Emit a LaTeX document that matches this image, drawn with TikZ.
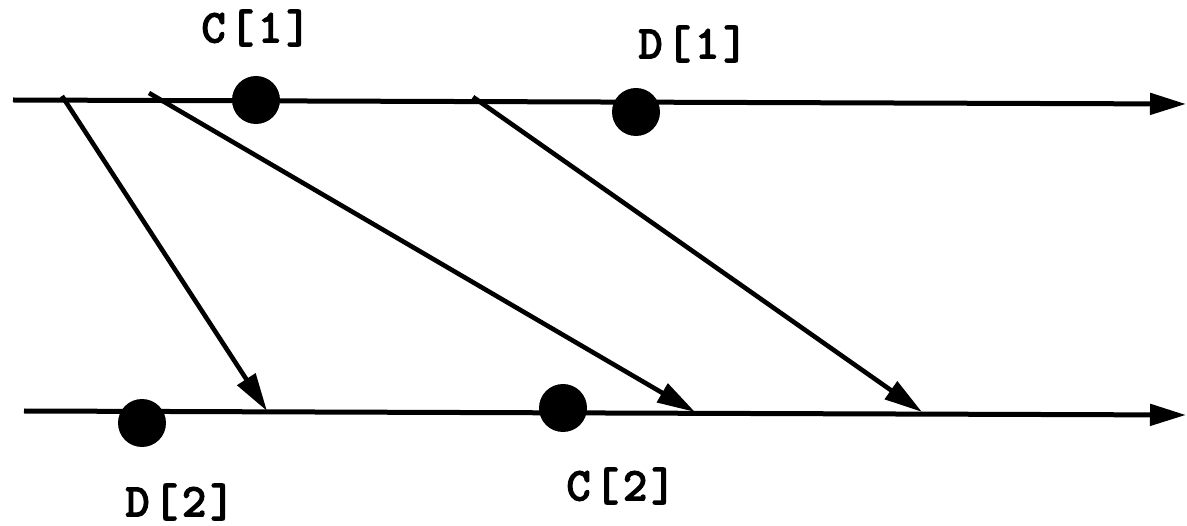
\documentclass[tikz,border=0pt]{standalone}
\usepackage{fontspec}
\newfontfamily\evfont{Latin Modern Mono}[FakeBold=4,LetterSpace=10]
\usetikzlibrary{arrows.meta,calc}

\tikzset{
  axis line/.style={line width=5pt,-{Triangle[length=36pt,width=21pt]}},
  msg line/.style={line width=4.6pt,-{Triangle[length=38pt,width=21pt]}},
  ev label/.style={font=\fontsize{46}{50}\selectfont\evfont}
}

\begin{document}
\begin{tikzpicture}[x=1pt,y=-1pt]
\useasboundingbox (0,0) rectangle (1187,526);

% time lines
\coordinate (A) at (13,100);
\coordinate (B) at (1186,104);
\coordinate (P) at (24,411);
\coordinate (Q) at (1186,415);

% events
\coordinate (C1) at (256,100);
\coordinate (D1) at (636,112);
\coordinate (D2) at (142,423);
\coordinate (C2) at (563,408);

% messages
\coordinate (S1) at (62,96);
\coordinate (S2) at (149,93);
\coordinate (S3) at (473,97);
\coordinate (R1) at (267,411);
\coordinate (R2) at (695,412);
\coordinate (R3) at (922,412);

\draw[axis line] (A) -- (B);
\draw[axis line] (P) -- (Q);
\foreach \s/\r in {S1/R1,S2/R2,S3/R3}
  \draw[msg line] (\s) -- (\r);

\foreach \p in {C1,D1,C2,D2}
  \fill (\p) circle (24pt);

\node[ev label] (lC1) at (256,28) {C[1]};
\node[ev label] (lD1) at (693,44) {D[1]};
\node[ev label] (lD2) at (180,502) {D[2]};
\node[ev label] (lC2) at (621,486) {C[2]};

\end{tikzpicture}
\end{document}
